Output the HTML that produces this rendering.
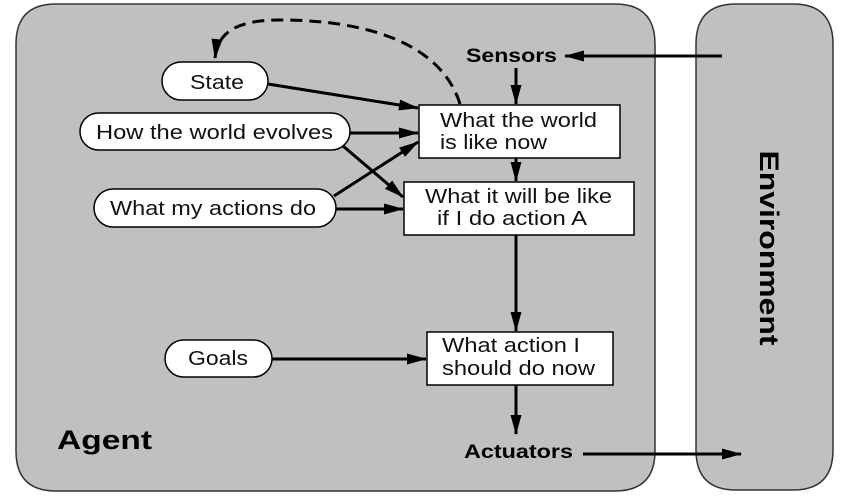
<!DOCTYPE html>
<html><head><style>body{margin:0;background:#fff}svg{display:block}</style></head><body>
<svg width="858" height="502" viewBox="0 0 858 502" font-family="Liberation Sans, sans-serif">
<defs>
<marker id="b" markerWidth="20" markerHeight="11" refX="19" refY="5.5" orient="auto" markerUnits="userSpaceOnUse"><path d="M0,0 L20,5.5 L0,11 Z" fill="#000"/></marker></defs>
<path d="M56,4 H615 Q655,4 655,44 V451 Q655,491 615,491 H56 Q16,491 16,451 V44 Q16,4 56,4 Z" fill="#c0c0c0" stroke="#333" stroke-width="1.5"/>
<path d="M736,4 H793 Q833,4 833,44 V450 Q833,490 793,490 H736 Q696,490 696,450 V44 Q696,4 736,4 Z" fill="#c0c0c0" stroke="#333" stroke-width="1.5"/>
<text x="0" y="0" transform="translate(760,248) rotate(90)" font-size="27" font-weight="bold" text-anchor="middle" textLength="195" lengthAdjust="spacingAndGlyphs">Environment</text>
<text x="57" y="449" font-size="27" font-weight="bold" textLength="95" lengthAdjust="spacingAndGlyphs">Agent</text>
<g stroke="#000" stroke-width="3" fill="none">
<path d="M460,104 C440,40 360,20 280,20 C240,20 218,30 215,58" stroke-dasharray="12,7" marker-end="url(#b)"/>
<line x1="722" y1="56" x2="565" y2="56" marker-end="url(#b)"/>
<line x1="516" y1="68" x2="516" y2="104" marker-end="url(#b)"/>
<line x1="516" y1="158" x2="516" y2="181" marker-end="url(#b)"/>
<line x1="516" y1="235" x2="516" y2="331" marker-end="url(#b)"/>
<line x1="516" y1="385" x2="516" y2="434" marker-end="url(#b)"/>
<line x1="583" y1="454" x2="741" y2="454" marker-end="url(#b)"/>
<line x1="268" y1="84" x2="418" y2="108" marker-end="url(#b)"/>
<line x1="350" y1="133" x2="418" y2="133" marker-end="url(#b)"/>
<line x1="343" y1="146" x2="403" y2="197" marker-end="url(#b)"/>
<line x1="334" y1="196" x2="418" y2="142" marker-end="url(#b)"/>
<line x1="336" y1="209" x2="403" y2="209" marker-end="url(#b)"/>
<line x1="272" y1="359" x2="426" y2="359" marker-end="url(#b)"/>
</g>
<g fill="#fff" stroke="#000" stroke-width="1.5">
<rect x="162" y="62" width="106" height="38" rx="19"/>
<rect x="80" y="113" width="270" height="37" rx="18.5"/>
<rect x="94" y="189" width="242" height="38" rx="19"/>
<rect x="165" y="340" width="107" height="37" rx="18.5"/>
<rect x="419" y="105" width="201" height="53"/>
<rect x="404" y="182" width="230" height="53"/>
<rect x="427" y="332" width="186" height="53"/>
</g>
<g font-size="20" fill="#111">
<text x="190" y="89" textLength="54" lengthAdjust="spacingAndGlyphs">State</text>
<text x="96" y="139" textLength="237" lengthAdjust="spacingAndGlyphs">How the world evolves</text>
<text x="110" y="215" textLength="206" lengthAdjust="spacingAndGlyphs">What my actions do</text>
<text x="188" y="365" textLength="60" lengthAdjust="spacingAndGlyphs">Goals</text>
<text x="440" y="127" textLength="157" lengthAdjust="spacingAndGlyphs">What the world</text>
<text x="440" y="149" textLength="107" lengthAdjust="spacingAndGlyphs">is like now</text>
<text x="425" y="203" textLength="187" lengthAdjust="spacingAndGlyphs">What it will be like</text>
<text x="437" y="225" textLength="150" lengthAdjust="spacingAndGlyphs">if I do action A</text>
<text x="442" y="352" textLength="138" lengthAdjust="spacingAndGlyphs">What action I</text>
<text x="442" y="375" textLength="153" lengthAdjust="spacingAndGlyphs">should do now</text>
</g>
<g font-size="19" font-weight="bold">
<text x="466" y="62" textLength="91" lengthAdjust="spacingAndGlyphs">Sensors</text>
<text x="464" y="458" textLength="109" lengthAdjust="spacingAndGlyphs">Actuators</text></g>
</svg></body></html>
